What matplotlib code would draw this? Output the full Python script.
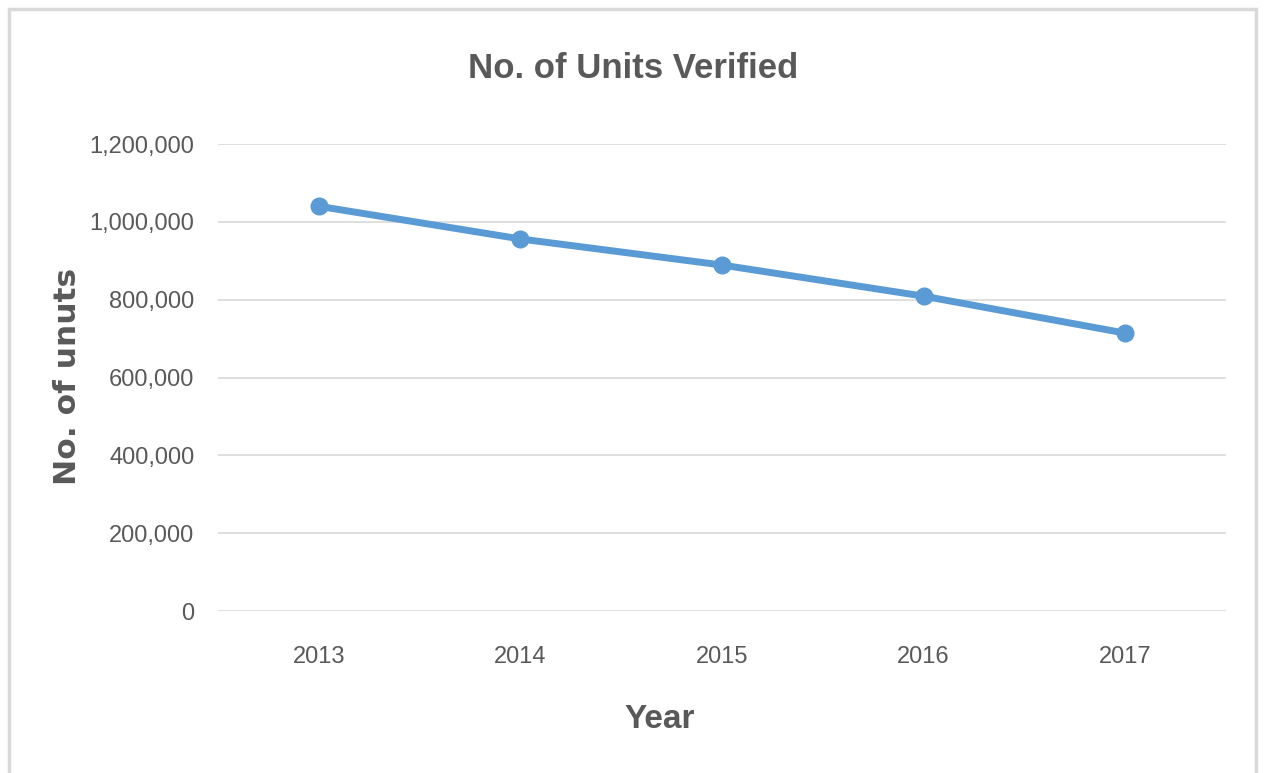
import matplotlib
matplotlib.use("Agg")
from matplotlib import pyplot as plt
from matplotlib.patches import Rectangle
from matplotlib.ticker import FuncFormatter

years = ['2013', '2014', '2015', '2016', '2017']
units = [1040000, 956000, 889000, 809000, 714000]
yticks = [0, 200000, 400000, 600000, 800000, 1000000, 1200000]

narrow = ['Liberation Sans', 'DejaVu Sans']
grey = '#595959'
blue = '#5B9BD5'

fig = plt.figure(figsize=(12.64, 7.73), dpi=100)
# chart frame
fig.patches.append(Rectangle((9/1264, -0.05), 1 - 17/1264, 1.05 - 9/773,
                             transform=fig.transFigure, fill=False,
                             edgecolor='#D9D9D9', linewidth=2.5))

ax = fig.add_axes([218/1264, 1 - 611/773, 1008/1264, 467/773])
x = list(range(len(years)))
ax.plot(x, units, color=blue, linewidth=5, marker='o', markersize=12,
        solid_capstyle='round', zorder=3)

ax.set_xlim(-0.5, len(years) - 0.5)
ax.set_ylim(0, 1200000)
ax.set_xticks(x)
ax.set_xticklabels(years)
ax.set_yticks(yticks)
ax.yaxis.set_major_formatter(FuncFormatter(lambda v, p: '{:,.0f}'.format(v)))
ax.grid(axis='y', color='#D9D9D9', linewidth=1.2)
ax.set_axisbelow(True)
for s in ax.spines.values():
    s.set_visible(False)
ax.tick_params(length=0, labelcolor=grey, labelsize=17)
ax.tick_params(axis='y', pad=17)
ax.tick_params(axis='x', pad=25)
for lab in ax.get_xticklabels() + ax.get_yticklabels():
    lab.set_family(narrow)

fig.text(633/1264, 1 - 68/773, 'No. of Units Verified', ha='center', va='center',
         fontsize=25, fontweight='bold', color=grey, family=narrow)
fig.text(660/1264, 1 - 719/773, 'Year', ha='center', va='center',
         fontsize=24, fontweight='bold', color=grey, family=narrow)
fig.text(67/1264, 1 - 376/773, 'No. of unuts', ha='center', va='center',
         rotation=90, fontsize=22.5, fontweight='bold', color=grey,
         family='DejaVu Sans')

fig.savefig('out.png', dpi=100, facecolor='white')
